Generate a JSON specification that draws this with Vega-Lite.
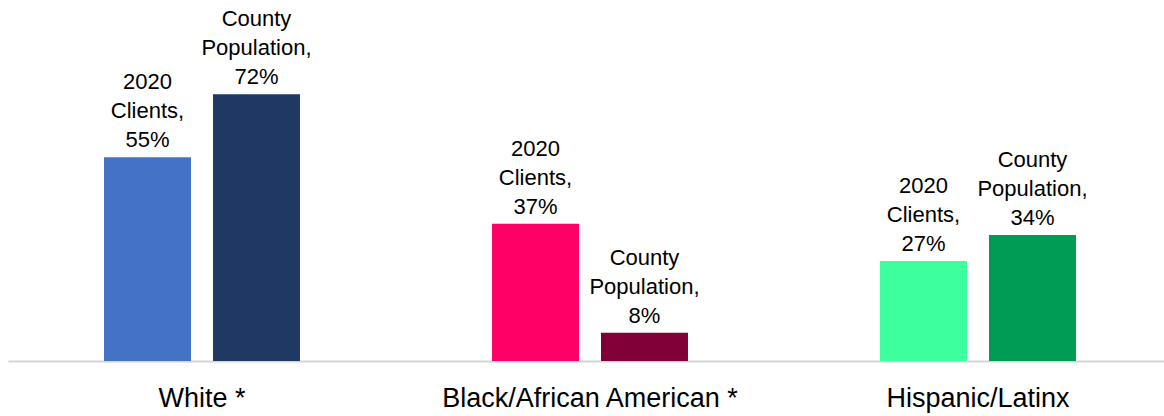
{
  "$schema": "https://vega.github.io/schema/vega-lite/v6.json",
  "autosize": {"type": "none"},
  "padding": {"left": 8, "top": 0, "right": 0, "bottom": 55},
  "width": 1156,
  "height": 361,
  "background": "white",
  "config": {"view": {"stroke": null}, "font": "Liberation Sans"},
  "data": {
    "values": [
      {"group": "White *", "series": "2020 Clients", "value": 0.55},
      {"group": "White *", "series": "County Population", "value": 0.72},
      {"group": "Black/African American *", "series": "2020 Clients", "value": 0.37},
      {"group": "Black/African American *", "series": "County Population", "value": 0.076},
      {"group": "Hispanic/Latinx", "series": "2020 Clients", "value": 0.27},
      {"group": "Hispanic/Latinx", "series": "County Population", "value": 0.34}
    ]
  },
  "transform": [
    {"calculate": "datum.group + '|' + datum.series", "as": "key"},
    {"calculate": "[split(datum.series, ' ')[0], split(datum.series, ' ')[1] + ',', format(datum.value, '.0%')]", "as": "label"}
  ],
  "encoding": {
    "x": {
      "field": "group",
      "type": "nominal",
      "sort": null,
      "scale": {"range": [0, 1164], "paddingInner": 0, "paddingOuter": 0},
      "axis": {
        "title": null,
        "labelAngle": 0,
        "labelFontSize": 27,
        "labelColor": "#000000",
        "labelPadding": 24,
        "labelLimit": 0,
        "ticks": false,
        "domainColor": "#D4D4D4",
        "domainWidth": 2,
        "labelFont": "Liberation Sans"
      }
    },
    "xOffset": {
      "field": "series",
      "type": "nominal",
      "sort": null,
      "scale": {"paddingInner": 0.2018, "paddingOuter": 0.881}
    },
    "y": {
      "field": "value",
      "type": "quantitative",
      "scale": {"domain": [0, 0.974], "nice": false, "zero": true},
      "axis": null
    }
  },
  "layer": [
    {
      "mark": {"type": "bar"},
      "encoding": {
        "color": {
          "field": "key",
          "type": "nominal",
          "legend": null,
          "scale": {
            "domain": [
              "White *|2020 Clients",
              "White *|County Population",
              "Black/African American *|2020 Clients",
              "Black/African American *|County Population",
              "Hispanic/Latinx|2020 Clients",
              "Hispanic/Latinx|County Population"
            ],
            "range": ["#4472C4", "#203864", "#FF0066", "#800037", "#3DFF9E", "#009B55"]
          }
        }
      }
    },
    {
      "mark": {
        "type": "text",
        "baseline": "bottom",
        "align": "center",
        "dy": -63,
        "fontSize": 22,
        "lineHeight": 29,
        "color": "#000000",
        "font": "Liberation Sans"
      },
      "encoding": {
        "text": {"field": "label"}
      }
    }
  ]
}
